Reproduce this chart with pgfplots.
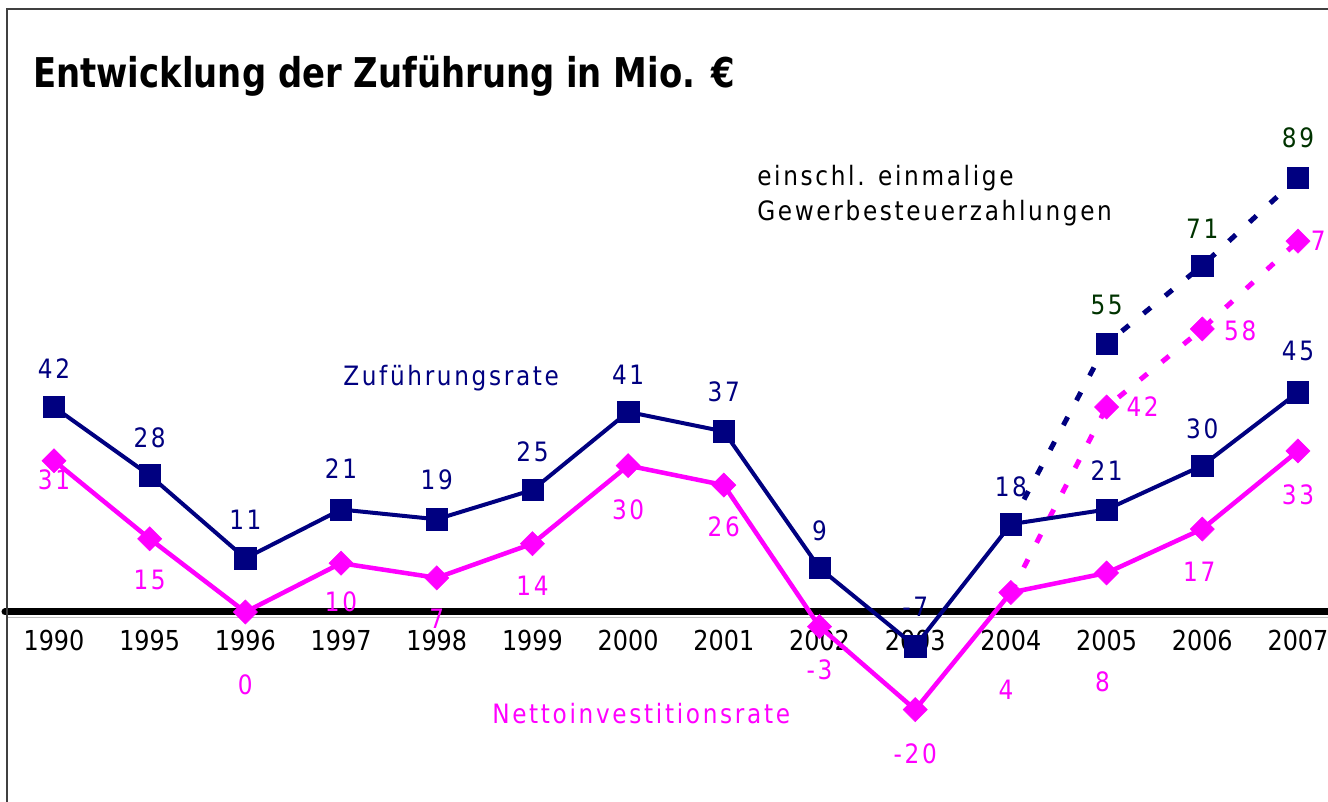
\documentclass[border=0pt]{standalone}
\usepackage{fontspec}
\setmainfont{DejaVu Sans}[FakeStretch=0.87]
\newfontfamily\lblfont{DejaVu Sans}[FakeStretch=0.87,LetterSpace=10]
\newfontfamily\titlefont{DejaVu Sans Bold}[FakeStretch=0.826]
\usepackage{pgfplots}
\usepackage{pgfplotstable}
\pgfplotsset{compat=1.18}
\definecolor{navy}{RGB}{0,0,128}
\definecolor{mag}{RGB}{255,0,255}
\definecolor{dgreen}{RGB}{0,51,0}
\definecolor{frame}{RGB}{64,64,64}

% Zufuehrungsrate (solid)
\pgfplotstableread{
x y lbl dx dy
0 42 42 0 38
1 28 28 0 38
2 11 11 0 39
3 21 21 0 41
4 19 19 0 39
5 25 25 0 38
6 41 41 0 37
7 37 37 0 40
8 9 9 0 37
9 -7 -7 0 39
10 18 18 0 37
11 21 21 0 39
12 30 30 0 37
13 45 45 0 41
}\zuf
% Zufuehrungsrate incl. one-off payments
\pgfplotstableread{
x y lbl dx dy
11 55 55 0 39
12 71 71 0 37
13 89 89 0 40
}\zufext
% Nettoinvestitionsrate (solid)
\pgfplotstableread{
x y lbl dx dy
0 31 31 0 -19
1 15 15 0 -41
2 0 0 0 -73
3 10 10 0 -39
4 7 7 0 -41
5 14 14 0 -42
6 30 30 0 -44
7 26 26 0 -42
8 -3 -3 0 -43
9 -20 -20 0 -44
10 4 4 -5 -97
11 8 8 -4 -109
12 17 17 -3 -43
13 33 33 0 -44
}\net
% Nettoinvestitionsrate incl. one-off payments
\pgfplotstableread{
x y lbl dx dy
11 42 42 36 0
12 58 58 38 -2
13 76 76 29 0
}\netext

\newcommand{\pxy}[2]{(#1*0.75pt,{(802-#2)*0.75pt})}

\pgfplotsset{
  lbls/.style={
    point meta=explicit symbolic,
    visualization depends on={\thisrow{dx}\as\dx},
    visualization depends on={\thisrow{dy}\as\dy},
    nodes near coords,
    every node near coord/.append style={anchor=center, inner sep=0pt,
      xshift=\dx*0.75pt, yshift=\dy*0.75pt,
      font=\lblfont\fontsize{20}{24}\selectfont, text=#1},
  },
}

\begin{document}
\begin{tikzpicture}
\useasboundingbox (0,0) rectangle (996pt,601.5pt);
\fill[white] (0,0) rectangle (996pt,601.5pt);
\draw[black!25, line width=0.9pt] \pxy{8}{617.5} -- \pxy{1340}{617.5};
\begin{axis}[
  at={(3.75pt,0pt)}, anchor=south west,
  scale only axis, width=998.43pt, height=601.5pt,
  xmin=-0.512, xmax=13.4, ymin=-38.934, ymax=125.41,
  axis x line=middle, axis y line=none,
  hide obscured x ticks=false,
  x axis line style={-, line width=5.25pt, black, line cap=round},
  xtick={0,...,13},
  xticklabels={1990,1995,1996,1997,1998,1999,2000,2001,2002,2003,2004,2005,2006,2007},
  major tick length=0pt,
  xticklabel style={anchor=center, inner sep=0pt, yshift=-21.75pt,
    font=\fontsize{20.6}{24}\selectfont, text=black},
]
% dotted extensions
\addplot[navy, line width=3.75pt, dash pattern=on 7pt off 14pt, no marks]
  coordinates {(10,18) (11,55) (12,71) (13,89)};
\addplot[mag, line width=3.75pt, dash pattern=on 7pt off 14pt, no marks]
  coordinates {(10,4) (11,42) (12,58) (13,76)};
% solid series
\addplot[navy, line width=3pt, mark=square*,
  mark options={solid, line width=0.4pt, mark size=8pt}, lbls=navy]
  table[x=x, y=y, meta=lbl]{\zuf};
\addplot[mag, line width=3.4pt, mark=square*,
  mark options={solid, line width=0.4pt, mark size=6.4pt, rotate=45}, lbls=mag]
  table[x=x, y=y, meta=lbl]{\net};
% extension markers
\addplot[only marks, navy, mark=square*,
  mark options={solid, line width=0.4pt, mark size=8pt}, lbls=dgreen]
  table[x=x, y=y, meta=lbl]{\zufext};
\addplot[only marks, mag, mark=square*,
  mark options={solid, line width=0.4pt, mark size=6.4pt, rotate=45}, lbls=mag]
  table[x=x, y=y, meta=lbl]{\netext};
\end{axis}
% frame
\draw[frame, line width=1.5pt] (4.875pt,-20pt) -- \pxy{6.5}{9} -- (1020pt,{(802-9)*0.75pt});
% title and annotations
\node[anchor=base west, inner sep=0pt, font=\titlefont\fontsize{30.75}{36}\selectfont]
  at \pxy{33}{88} {Entwicklung der Zuführung in Mio. €};
\node[anchor=base west, inner sep=0pt, font=\lblfont\fontsize{20}{24}\selectfont]
  at \pxy{757}{186} {einschl. einmalige};
\node[anchor=base west, inner sep=0pt, font=\lblfont\fontsize{20}{24}\selectfont]
  at \pxy{757}{221} {Gewerbesteuerzahlungen};
\node[anchor=base west, inner sep=0pt, text=navy, font=\lblfont\fontsize{20}{24}\selectfont]
  at \pxy{343}{386} {Zuführungsrate};
\node[anchor=base west, inner sep=0pt, text=mag, font=\lblfont\fontsize{20}{24}\selectfont]
  at \pxy{492}{724} {Nettoinvestitionsrate};
\end{tikzpicture}
\end{document}
